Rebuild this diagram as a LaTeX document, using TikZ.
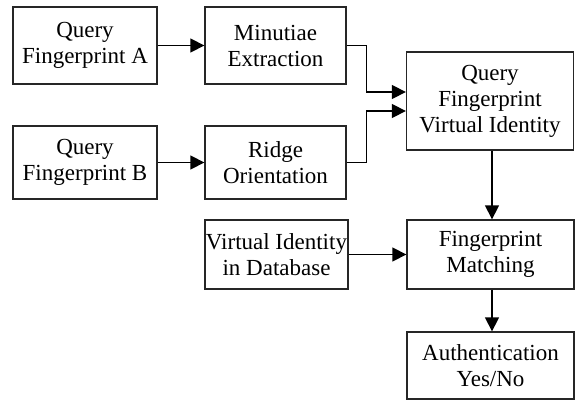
\documentclass[tikz,border=0pt]{standalone}
\usepackage{fontspec}
\setmainfont{Liberation Serif}
\usetikzlibrary{arrows.meta,calc}
\begin{document}
\begin{tikzpicture}[x=1pt,y=-1pt,
  box/.style={draw=black!85,line width=1.3pt,align=center,inner sep=0pt,
    font=\fontsize{23}{26}\selectfont},
  arr/.style={draw=black,line width=1.3pt,-{Triangle[length=14pt,width=14pt]}}]
\useasboundingbox (0,0) rectangle (575,401);
\node[box,minimum width=144pt,minimum height=77pt] (a) at (85,45.5) {Query\\Fingerprint A};
\node[box,minimum width=144pt,minimum height=73pt] (b) at (85,162.5) {Query\\Fingerprint B};
\node[box,minimum width=141pt,minimum height=77pt] (m) at (275.5,45.5) {Minutiae\\Extraction};
\node[box,minimum width=141pt,minimum height=73pt] (r) at (275.5,162.5) {Ridge\\Orientation};
\node[box,minimum width=167pt,minimum height=98pt] (q) at (490,101) {Query\\Fingerprint\\Virtual Identity};
\node[box,minimum width=143pt,minimum height=69pt] (d) at (276.5,254.5) {Virtual Identity\\in Database};
\node[box,minimum width=167pt,minimum height=69pt] (f) at (490.5,254.5) {Fingerprint\\Matching};
\node[box,minimum width=167pt,minimum height=67pt] (u) at (490.5,365.5) {Authentication\\Yes/No};
\draw[arr] (a.east) -- (m.west);
\draw[arr] (b.east) -- (r.west);
\draw[arr] (m.east) -- ++(20,0) |- ($(q.west)+(0,-9)$);
\draw[arr] (r.east) -- ++(20,0) |- ($(q.west)+(0,10)$);
\draw[arr] ($(q.south)+(2,0)$) -- ($(f.north)+(1.5,0)$);
\draw[arr] (d.east) -- (f.west);
\draw[arr] ($(f.south)+(1.5,0)$) -- ($(u.north)+(1.5,0)$);
\end{tikzpicture}
\end{document}
